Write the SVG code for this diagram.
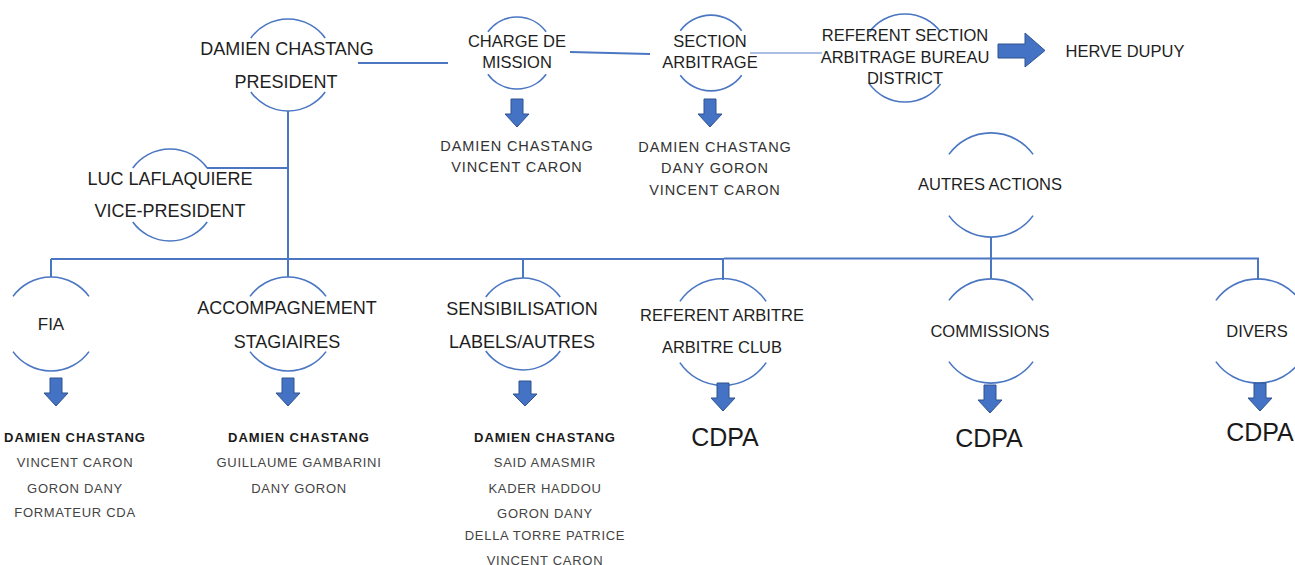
<svg xmlns="http://www.w3.org/2000/svg" width="1295" height="565" viewBox="0 0 1295 565">
<defs>
<style>
.arc{fill:none;stroke:#4A76C2;stroke-width:1.6}
.ln{fill:none;stroke:#4A76C2;stroke-width:2}
.thin{fill:none;stroke:#8FAADC;stroke-width:1.3}
.arr{fill:#4472C4;stroke:#2F528F;stroke-width:1}
text{font-family:"Liberation Sans",Arial,sans-serif;text-anchor:middle;fill:#1e1e1e}
.t18{font-size:18px}
.t16{font-size:16.5px}
.sm{font-size:14.5px;fill:#333;letter-spacing:0.9px}
.ls{font-size:13px;fill:#444;letter-spacing:0.7px}
.lb{font-size:13px;font-weight:bold;fill:#1a1a1a;letter-spacing:0.95px}
.cd{font-size:25px;fill:#1a1a1a}
</style>
</defs>
<rect width="1295" height="565" fill="#fff"/>
<g id="connectors">
<path class="ln" d="M358,63 H448"/>
<path class="ln" d="M570,52 L650,54"/>
<path class="thin" d="M750,53 H822"/>
<path class="ln" d="M288,111 V277"/>
<path class="ln" d="M207,168 H288"/>
<path class="ln" d="M51,259 H724"/>
<path class="ln" d="M724,258.5 H1258 V280"/>
<path class="ln" d="M51,259 V277"/>
<path class="ln" d="M523,259 V278"/>
<path class="ln" d="M723,258 V280"/>
<path class="ln" d="M991,237 V279"/>
</g>
<g id="n-president">
<path class="arc" d="M250.8,38 A46,46 0 0 1 325.2,38"/>
<path class="arc" d="M250.8,92 A46,46 0 0 0 325.2,92"/>
<text class="t18" x="287" y="54.5">DAMIEN CHASTANG</text>
<text class="t18" x="286" y="87.5">PRESIDENT</text>
</g>
<g id="n-charge">
<path class="arc" d="M487.9,31.8 A36,36 0 0 1 546.1,31.8"/>
<path class="arc" d="M487.9,74.2 A36,36 0 0 0 546.1,74.2"/>
<text class="t16" x="517" y="47">CHARGE DE</text>
<text class="t16" x="517" y="68">MISSION</text>
<path class="arr" d="M511,99 H523 V114 H529 L517,127 L505,114 H511 Z"/>
<text class="sm" x="517" y="150.5">DAMIEN CHASTANG</text>
<text class="sm" x="517" y="171.5">VINCENT CARON</text>
</g>
<g id="n-section">
<path class="arc" d="M680.3,30.7 A38,38 0 0 1 741.7,30.7"/>
<path class="arc" d="M680.3,75.3 A38,38 0 0 0 741.7,75.3"/>
<text class="t16" x="710" y="47">SECTION</text>
<text class="t16" x="710" y="68">ARBITRAGE</text>
<path class="arr" d="M704,99 H716 V114 H722 L710,127 L698,114 H704 Z"/>
<text class="sm" x="715" y="151.5">DAMIEN CHASTANG</text>
<text class="sm" x="715" y="172.5">DANY GORON</text>
<text class="sm" x="715" y="194.5">VINCENT CARON</text>
</g>
<g id="n-referent-section">
<path class="arc" d="M869.4,32.1 A44,44 0 0 1 940.6,32.1"/>
<path class="arc" d="M869.4,83.9 A44,44 0 0 0 940.6,83.9"/>
<text class="t16" x="905" y="41">REFERENT SECTION</text>
<text class="t16" x="905" y="63">ARBITRAGE BUREAU</text>
<text class="t16" x="905" y="84">DISTRICT</text>
<path class="arr" d="M998,44 H1025 V33 L1045,50.5 L1025,67 V58 H998 Z"/>
</g>
<g id="n-herve">
<text class="t16" x="1125" y="57">HERVE DUPUY</text>
</g>
<g id="n-luc">
<path class="arc" d="M132.8,168 A46,46 0 0 1 207.2,168"/>
<path class="arc" d="M132.8,222 A46,46 0 0 0 207.2,222"/>
<text class="t18" x="170" y="184.5">LUC LAFLAQUIERE</text>
<text class="t18" x="170" y="216.5">VICE-PRESIDENT</text>
</g>
<g id="n-autres">
<path class="arc" d="M948.9,154.4 A52,52 0 0 1 1033.1,154.4"/>
<path class="arc" d="M948.9,215.6 A52,52 0 0 0 1033.1,215.6"/>
<text class="t16" x="990" y="190">AUTRES ACTIONS</text>
</g>
<g id="n-fia">
<path class="arc" d="M13,296.4 A47,47 0 0 1 89,296.4"/>
<path class="arc" d="M13,351.6 A47,47 0 0 0 89,351.6"/>
<text x="51" y="330" style="font-size:17px">FIA</text>
<path class="arr" d="M50,378 H62 V393 H68 L56,406 L44,393 H50 Z"/>
<text class="lb" x="75" y="441.5">DAMIEN CHASTANG</text>
<text class="ls" x="75" y="466.5">VINCENT CARON</text>
<text class="ls" x="75" y="492.5">GORON DANY</text>
<text class="ls" x="75" y="516.5">FORMATEUR CDA</text>
</g>
<g id="n-accompagnement">
<path class="arc" d="M250,296.4 A47,47 0 0 1 326,296.4"/>
<path class="arc" d="M250,351.6 A47,47 0 0 0 326,351.6"/>
<text class="t18" x="287" y="313.5">ACCOMPAGNEMENT</text>
<text class="t18" x="287" y="347.5">STAGIAIRES</text>
<path class="arr" d="M282,378 H294 V393 H300 L288,406 L276,393 H282 Z"/>
<text class="lb" x="299" y="441.5">DAMIEN CHASTANG</text>
<text class="ls" x="299" y="466.5">GUILLAUME GAMBARINI</text>
<text class="ls" x="299" y="492.5">DANY GORON</text>
</g>
<g id="n-sensibilisation">
<path class="arc" d="M485.8,297 A46,46 0 0 1 560.2,297"/>
<path class="arc" d="M485.8,351 A46,46 0 0 0 560.2,351"/>
<text class="t18" x="522" y="314.5">SENSIBILISATION</text>
<text class="t18" x="522" y="347.5">LABELS/AUTRES</text>
<path class="arr" d="M519,381 H531 V394 H537 L525,406 L513,394 H519 Z"/>
<text class="lb" x="545" y="441.5">DAMIEN CHASTANG</text>
<text class="ls" x="545" y="466.5">SAID AMASMIR</text>
<text class="ls" x="545" y="492.5">KADER HADDOU</text>
<text class="ls" x="545" y="517.5">GORON DANY</text>
<text class="ls" x="545" y="539.5">DELLA TORRE PATRICE</text>
<text class="ls" x="545" y="564.5">VINCENT CARON</text>
</g>
<g id="n-referent-arbitre">
<path class="arc" d="M679.9,301.4 A52,52 0 0 1 766.1,301.4"/>
<path class="arc" d="M679.9,362.6 A52,52 0 0 0 766.1,362.6"/>
<text class="t16" x="722" y="321">REFERENT ARBITRE</text>
<text class="t16" x="722" y="353">ARBITRE CLUB</text>
<path class="arr" d="M717,383 H729 V398 H735 L723,411 L711,398 H717 Z"/>
<text class="cd" x="725" y="446">CDPA</text>
</g>
<g id="n-commissions">
<path class="arc" d="M948.9,300.4 A52,52 0 0 1 1033.1,300.4"/>
<path class="arc" d="M948.9,361.6 A52,52 0 0 0 1033.1,361.6"/>
<text class="t16" x="990" y="337">COMMISSIONS</text>
<path class="arr" d="M984,385 H996 V400 H1002 L990,413 L978,400 H984 Z"/>
<text class="cd" x="989" y="447">CDPA</text>
</g>
<g id="n-divers">
<path class="arc" d="M1215.9,300.4 A52,52 0 0 1 1300.1,300.4"/>
<path class="arc" d="M1215.9,361.6 A52,52 0 0 0 1300.1,361.6"/>
<text class="t16" x="1257" y="337">DIVERS</text>
<path class="arr" d="M1254,383 H1266 V398 H1272 L1260,411 L1248,398 H1254 Z"/>
<text class="cd" x="1260" y="441">CDPA</text>
</g>
</svg>
